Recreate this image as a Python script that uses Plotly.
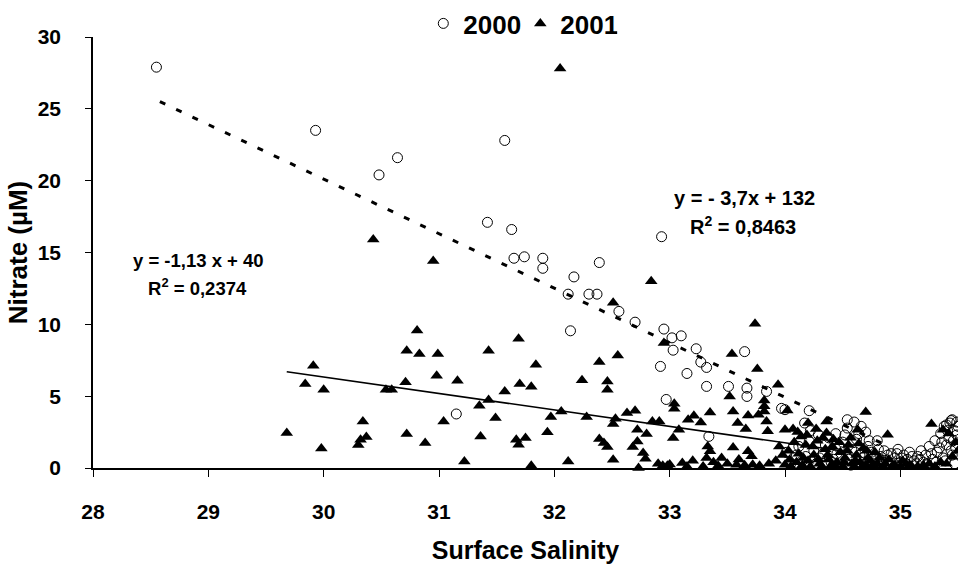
import plotly.graph_objects as go

# ---- data ----
sal_2000 = [28.55, 29.93, 30.48, 30.64, 31.57, 31.42, 31.63, 31.65, 31.74, 31.90, 31.90, 32.17,
            32.12, 32.30, 32.37, 32.39, 32.14, 32.93, 32.56, 32.70, 32.95, 33.02, 33.10, 33.03,
            33.23, 32.92, 33.15, 33.27, 33.32, 33.65, 33.32, 33.51, 33.67, 33.67, 33.84, 32.97,
            33.97, 34.00, 33.34, 34.01, 34.07, 31.15, 34.21, 34.54, 34.54, 34.17, 34.44, 34.29,
            34.21, 35.45, 35.43, 35.38,
            34.10, 34.15, 34.25, 34.30, 34.35, 34.40, 34.45, 34.50, 34.55, 34.58, 34.62, 34.65,
            34.68, 34.72, 34.75, 34.78, 34.80, 34.83, 34.86, 34.88, 34.92, 34.95, 34.98, 35.00,
            35.03, 35.06, 35.08, 35.12, 35.15, 35.18, 35.20, 35.22, 35.25, 35.28, 35.30, 35.32,
            35.35, 35.37, 35.40, 35.42, 35.45, 35.47, 35.48, 35.49, 34.60, 34.70, 34.66,
            34.05, 34.12, 34.18, 34.22, 34.27, 34.33, 34.38, 34.42, 34.47, 34.52, 34.57, 34.61,
            34.64, 34.69, 34.73, 34.77, 34.81, 34.85, 34.89, 34.93, 34.97, 35.01, 35.05, 35.10,
            35.14, 35.17, 35.23, 35.27, 35.31, 35.34, 35.36, 35.39, 35.41, 35.44, 35.46, 35.47,
            35.49, 35.50, 35.44, 35.40]
nit_2000 = [27.9, 23.5, 20.4, 21.6, 22.8, 17.1, 16.6, 14.6, 14.7, 14.6, 13.9, 13.3,
            12.1, 12.1, 12.1, 14.3, 9.55, 16.1, 10.9, 10.15, 9.67, 9.06, 9.2, 8.2,
            8.3, 7.07, 6.58, 7.37, 7.0, 8.1, 5.68, 5.68, 5.56, 4.98, 5.33, 4.77,
            4.15, 4.06, 2.2, 1.09, 1.4, 3.76, 3.99, 3.36, 2.78, 3.13, 2.39, 2.32,
            1.85, 3.36, 3.13, 2.9,
            0.9, 0.5, 1.2, 0.7, 1.6, 0.4, 1.0, 1.8, 0.6, 1.3, 2.0, 0.9,
            0.4, 1.5, 1.1, 0.6, 1.9, 0.8, 1.2, 0.5, 1.0, 0.7, 1.3, 0.4,
            0.9, 0.6, 1.1, 0.5, 0.8, 1.2, 0.4, 0.9, 1.5, 0.6, 1.9, 1.1,
            2.4, 0.7, 1.6, 2.1, 0.9, 2.6, 1.4, 3.2, 3.2, 2.5, 2.9,
            0.3, 1.5, 0.8, 2.6, 0.3, 1.0, 2.1, 0.6, 1.4, 2.3, 0.2, 1.1,
            2.4, 0.8, 1.9, 0.3, 1.3, 0.4, 0.9, 0.3, 1.0, 0.7, 0.3, 0.8,
            0.3, 0.6, 0.3, 1.0, 0.4, 1.4, 1.8, 0.5, 2.6, 1.2, 1.9, 0.3,
            2.3, 2.9, 3.3, 3.0]

sal_2001 = [30.43, 30.95, 30.81, 30.72, 30.83, 30.99, 29.91, 29.84, 30.00, 30.54, 30.59, 30.71,
            30.98, 31.16, 31.43, 31.69, 31.84, 31.57, 31.70, 31.80, 31.43, 31.35, 31.49, 31.04,
            30.34, 30.37, 30.32, 30.30, 29.68, 29.98, 30.72, 30.88, 31.36, 31.67, 31.75, 31.69,
            31.22, 31.80, 32.05,
            32.84, 32.51, 33.74, 32.95, 32.55, 32.39, 33.54, 33.76, 32.24, 32.46, 32.46, 33.94,
            33.52, 33.82, 33.04, 33.04, 32.06, 31.97, 32.28, 32.53, 32.63, 32.70, 32.51, 31.94,
            32.72, 32.80, 32.85, 32.91, 33.16, 33.21, 33.27, 33.08, 33.35, 33.55, 33.68, 33.59,
            33.66, 33.77, 33.82, 33.84, 33.85, 34.00, 34.07, 33.03, 32.72, 32.39, 32.43, 32.46,
            32.68, 32.77, 32.79, 33.33, 33.35, 33.32, 33.45, 33.55, 33.68, 33.71, 32.12, 32.51,
            32.94, 32.98, 33.11, 33.29, 33.58, 33.72, 33.78, 33.86, 34.00, 34.04, 32.73,
            33.82, 34.02, 34.70, 34.36, 34.20, 34.27, 34.63, 34.89, 35.27, 35.37, 34.36,
            34.05, 34.10, 34.12, 34.15, 34.18, 34.20, 34.22, 34.25, 34.28, 34.30, 34.32, 34.35,
            34.38, 34.40, 34.42, 34.45, 34.48, 34.50, 34.52, 34.55, 34.58, 34.60, 34.62, 34.65,
            34.68, 34.70, 34.72, 34.75, 34.78, 34.80, 34.85, 34.90, 34.95, 35.00, 35.05, 35.10,
            35.20, 35.35, 35.45, 35.48, 34.08, 34.14, 33.95, 33.98, 33.92, 33.60, 33.65, 33.50,
            33.42, 33.38, 33.20, 33.15, 33.00, 32.90,
            34.03, 34.11, 34.16, 34.19, 34.24, 34.29, 34.33, 34.37, 34.41, 34.44, 34.47, 34.51,
            34.54, 34.57, 34.61, 34.64, 34.67, 34.71, 34.74, 34.77, 34.82, 34.87, 34.93, 35.02,
            35.08, 35.15, 35.25, 35.30, 35.40, 35.50, 35.42]
nit_2001 = [15.9, 14.4, 9.57, 8.16, 7.93, 7.93, 7.11, 5.84, 5.45, 5.45, 5.45, 5.96,
            6.42, 6.07, 8.16, 9.0, 7.19, 5.33, 5.84, 5.65, 4.73, 4.33, 3.48, 3.24,
            3.24, 2.16, 1.97, 1.6, 2.43, 1.36, 2.36, 1.74, 2.2, 1.97, 2.09, 1.62,
            0.46, 0.16, 27.8,
            13.0, 11.5, 10.04, 8.7, 7.83, 7.37, 7.93, 6.89, 6.1, 6.02, 5.45, 5.8,
            4.98, 4.7, 4.47, 4.12, 3.94, 3.55, 3.55, 3.43, 3.83, 3.99, 3.06, 2.48,
            2.66, 2.36, 3.24, 3.24, 3.36, 3.64, 3.17, 2.66, 3.87, 3.94, 3.66, 3.13,
            2.71, 3.71, 4.29, 3.24, 2.55, 2.66, 2.71, 2.09, 1.85, 2.02, 1.74, 1.46,
            1.46, 1.04, 0.65, 1.5, 1.16, 0.7, 0.7, 1.43, 1.16, 0.81, 0.46, 0.58,
            0.16, 0.16, 0.35, 0.11, 0.23, 0.23, 0.16, 0.3, 0.23, 0.58, 0.0,
            3.94, 4.0, 3.9, 3.24, 3.13, 2.71, 2.66, 2.32, 3.06, 2.66, 2.43,
            0.1, 0.4, 1.0, 0.2, 1.6, 0.5, 0.1, 0.9, 1.9, 0.3, 0.1, 1.3,
            0.6, 0.2, 2.0, 0.4, 1.1, 0.1, 0.7, 1.6, 0.3, 0.1, 0.9, 0.4,
            1.4, 0.2, 0.7, 0.1, 1.1, 0.3, 0.1, 0.6, 0.2, 0.1, 0.3, 0.1,
            0.2, 0.4, 0.8, 1.8, 1.8, 2.2, 1.5, 0.9, 0.5, 0.6, 0.2, 0.3,
            0.15, 0.4, 0.5, 0.1, 0.25, 0.3,
            1.2, 2.5, 0.7, 2.3, 1.5, 0.6, 2.1, 0.9, 1.5, 0.1, 1.8, 0.4,
            1.2, 2.1, 0.5, 1.7, 0.1, 1.2, 0.5, 0.2, 0.7, 0.3, 0.1, 0.5,
            0.2, 0.1, 0.3, 0.1, 0.3, 1.2, 2.4]

trend2000_x = [28.58, 34.9]
trend2000_y = [25.5, 1.5]
trend2001_x = [29.68, 34.5]
trend2001_y = [6.7, 1.18]

x_ticks = [28, 29, 30, 31, 32, 33, 34, 35]
y_ticks = [0, 5, 10, 15, 20, 25, 30]

FONT = "Liberation Sans, Arial, sans-serif"

fig = go.Figure()
fig.add_trace(go.Scatter(x=trend2000_x, y=trend2000_y, mode="lines",
                         line=dict(color="black", width=3, dash="6px,12px"),
                         showlegend=False, hoverinfo="skip"))
fig.add_trace(go.Scatter(x=trend2001_x, y=trend2001_y, mode="lines",
                         line=dict(color="black", width=1.6),
                         showlegend=False, hoverinfo="skip"))
fig.add_trace(go.Scatter(x=sal_2000, y=nit_2000, mode="markers", name="2000",
                         cliponaxis=False,
                         marker=dict(symbol="circle-open", size=10, color="black",
                                     line=dict(width=1, color="black"))))
fig.add_trace(go.Scatter(x=sal_2001, y=nit_2001, mode="markers", name="2001",
                         cliponaxis=False,
                         marker=dict(symbol="triangle-up", size=11, color="black")))

ann_font_l = dict(family=FONT, size=18.5, color="black", weight="bold")
ann_font_r = dict(family=FONT, size=20, color="black", weight="bold")
fig.add_annotation(x=28.913, y=14.45, text="y = -1,13 x + 40", showarrow=False, font=ann_font_l)
fig.add_annotation(x=28.907, y=12.6, text="R<sup>2</sup> = 0,2374", showarrow=False, font=ann_font_l)
fig.add_annotation(x=33.647, y=18.8, text="y = - 3,7x + 132", showarrow=False, font=ann_font_r)
fig.add_annotation(x=33.638, y=16.85, text="R<sup>2</sup> = 0,8463", showarrow=False, font=ann_font_r)

fig.update_layout(
    width=958, height=565,
    margin=dict(l=93, r=0, t=37, b=97, autoexpand=False),
    paper_bgcolor="white", plot_bgcolor="white",
    font=dict(family=FONT, size=21, color="black", weight="bold"),
    showlegend=True,
    legend=dict(orientation="h", xref="paper", x=0.494, xanchor="center",
                yref="container", y=1.0, yanchor="top",
                font=dict(family=FONT, size=26, color="black", weight="bold"),
                bgcolor="rgba(0,0,0,0)", itemsizing="trace",
                entrywidth=52, entrywidthmode="pixels"),
    xaxis=dict(range=[28, 35.5], tickvals=x_ticks, ticktext=[str(v) for v in x_ticks],
               showline=True, linecolor="black", linewidth=1.5, ticks="outside",
               ticklen=7, tickcolor="black", showgrid=False, zeroline=False,
               ticklabelstandoff=17,
               title=dict(text="Surface Salinity", standoff=20,
                          font=dict(family=FONT, size=25, color="black", weight="bold"))),
    yaxis=dict(range=[0, 30], tickvals=y_ticks, ticktext=[str(v) for v in y_ticks],
               showline=True, linecolor="black", linewidth=1.5, ticks="outside",
               ticklen=6, tickcolor="black", showgrid=False, zeroline=False,
               ticklabelstandoff=20,
               title=dict(text="Nitrate (µM)", standoff=3,
                          font=dict(family=FONT, size=26, color="black", weight="bold"))),
)

fig.write_html("out.html")
